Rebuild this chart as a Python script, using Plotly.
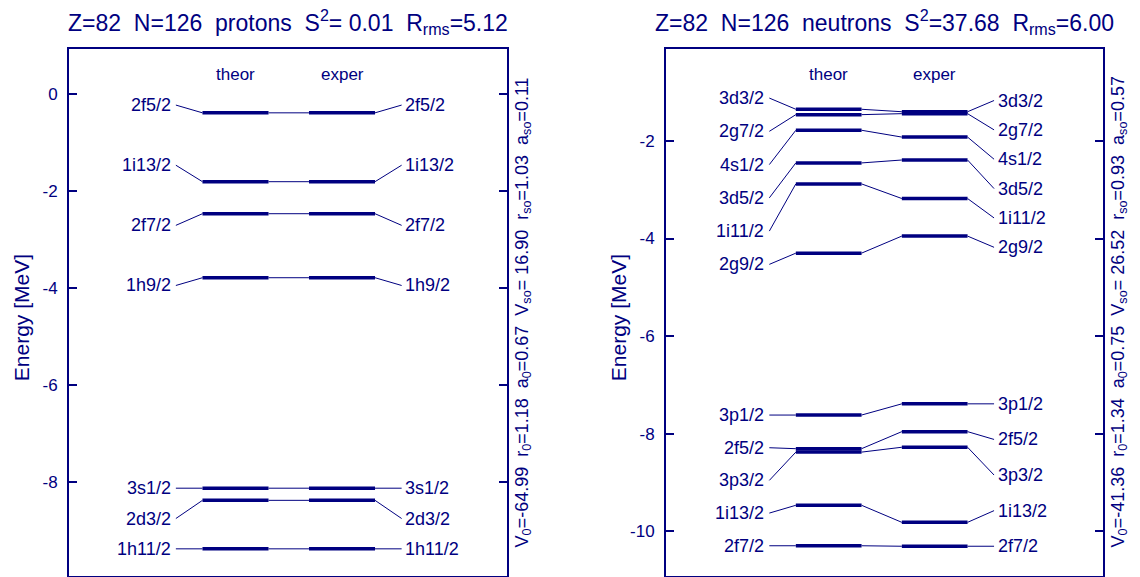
import plotly.graph_objects as go

# ---------------- data ----------------
prot_levels = ["2f5/2", "1i13/2", "2f7/2", "1h9/2", "3s1/2", "2d3/2", "1h11/2"]
prot_theor = [-0.39, -1.81, -2.47, -3.79, -8.13, -8.38, -9.38]
prot_exper = [-0.39, -1.81, -2.47, -3.79, -8.13, -8.38, -9.38]

neut_levels = ["3d3/2", "2g7/2", "4s1/2", "3d5/2", "1i11/2", "2g9/2",
               "3p1/2", "2f5/2", "3p3/2", "1i13/2", "2f7/2"]
neut_theor = [-1.35, -1.46, -1.78, -2.45, -2.88, -4.30,
              -7.62, -8.31, -8.38, -9.47, -10.30]
neut_exper = [-1.40, -1.44, -1.92, -2.39, -3.18, -3.95,
              -7.39, -7.96, -8.28, -9.82, -10.31]

column_names = ["theor", "exper"]
energy_ticks = [-10, -8, -6, -4, -2, 0]
energy_ticktext = [str(v) for v in energy_ticks]

prot_title = ("Z=82\u00a0\u00a0N=126\u00a0\u00a0protons\u00a0\u00a0S<sup>2</sup>= 0.01"
              "\u00a0\u00a0R<sub>rms</sub>=5.12")
neut_title = ("Z=82\u00a0\u00a0N=126\u00a0\u00a0neutrons\u00a0\u00a0S<sup>2</sup>=37.68"
              "\u00a0\u00a0R<sub>rms</sub>=6.00")
prot_params = ("V<sub>0</sub>=-64.99\u00a0\u00a0r<sub>0</sub>=1.18\u00a0\u00a0a<sub>0</sub>=0.67"
               "\u00a0\u00a0V<sub>so</sub>= 16.90\u00a0\u00a0r<sub>so</sub>=1.03\u00a0\u00a0a<sub>so</sub>=0.11")
neut_params = ("V<sub>0</sub>=-41.36\u00a0\u00a0r<sub>0</sub>=1.34\u00a0\u00a0a<sub>0</sub>=0.75"
               "\u00a0\u00a0V<sub>so</sub>= 26.52\u00a0\u00a0r<sub>so</sub>=0.93\u00a0\u00a0a<sub>so</sub>=0.57")

# ---------------- style ----------------
NAVY = "#000080"
FONT = "Liberation Sans, Arial, Helvetica, sans-serif"
W, H = 1140, 577
HALF = 0.31          # half width of a level bar (x units, columns at 1 and 2)
LAB_IN = 0.44        # end of left label connector
LAB_OUT = 2.56       # end of right label connector


def spread_labels(vals, pads, gap=2.0):
    """Spread label positions evenly inside each cluster of close levels."""
    order = sorted(range(len(vals)), key=lambda i: -vals[i])
    clusters = []
    for i in order:
        if clusters and vals[clusters[-1][-1]] - vals[i] < gap:
            clusters[-1].append(i)
        else:
            clusters.append([i])
    pos = list(vals)
    for k, cl in enumerate(clusters):
        pad = pads[min(k, len(pads) - 1)]
        top = vals[cl[0]] + pad
        bot = vals[cl[-1]] - pad
        n = len(cl)
        for j, i in enumerate(cl):
            pos[i] = top + (bot - top) * j / (n - 1) if n > 1 else vals[i]
    return pos


panels = [
    dict(levels=prot_levels, theor=prot_theor, exper=prot_exper, title=prot_title,
         params=prot_params, pads=(0.16, 0.0),
         px=(69, 507), cx=(235.5, 342.0), yr=(-9.93, 0.92), xs="x", ys="y"),
    dict(levels=neut_levels, theor=neut_theor, exper=neut_exper, title=neut_title,
         params=neut_params, pads=(0.23, 0.0),
         px=(666, 1103), cx=(828.7, 934.7), yr=(-10.91, -0.12), xs="x2", ys="y2"),
]

fig = go.Figure()
annotations = []
ydom = [1.5 / H, 1 - 49.3 / H]

for k, p in enumerate(panels):
    theor, exper, levels = p["theor"], p["exper"], p["levels"]
    lab_l = spread_labels(theor, p["pads"])
    lab_r = spread_labels(exper, p["pads"])

    thick_x, thick_y, thin_x, thin_y = [], [], [], []
    for i in range(len(levels)):
        thick_x += [1 - HALF, 1 + HALF, None, 2 - HALF, 2 + HALF, None]
        thick_y += [theor[i], theor[i], None, exper[i], exper[i], None]
        thin_x += [LAB_IN, 1 - HALF, None, 1 + HALF, 2 - HALF, None, 2 + HALF, LAB_OUT, None]
        thin_y += [lab_l[i], theor[i], None, theor[i], exper[i], None, exper[i], lab_r[i], None]

    fig.add_trace(go.Scatter(x=thin_x, y=thin_y, mode="lines", xaxis=p["xs"], yaxis=p["ys"],
                             line=dict(color=NAVY, width=1), hoverinfo="skip", showlegend=False))
    fig.add_trace(go.Scatter(x=thick_x, y=thick_y, mode="lines", xaxis=p["xs"], yaxis=p["ys"],
                             line=dict(color=NAVY, width=3.5), hoverinfo="skip", showlegend=False))

    ax = "" if k == 0 else "2"
    for i, name in enumerate(levels):
        annotations.append(dict(x=LAB_IN - 0.03, y=lab_l[i], xref="x" + ax, yref="y" + ax,
                                text=name, showarrow=False, xanchor="right", yanchor="middle",
                                font=dict(size=18, color=NAVY, family=FONT)))
        annotations.append(dict(x=LAB_OUT + 0.015, y=lab_r[i], xref="x" + ax, yref="y" + ax,
                                text=name, showarrow=False, xanchor="left", yanchor="middle",
                                font=dict(size=18, color=NAVY, family=FONT)))
    for j, cname in enumerate(column_names):
        annotations.append(dict(x=j + 1, y=1 - 74 / H, xref="x" + ax, yref="paper",
                                text=cname, showarrow=False, xanchor="center", yanchor="middle",
                                font=dict(size=17, color=NAVY, family=FONT)))

    x0, x1 = p["px"]
    c1, c2 = p["cx"]
    ppu = c2 - c1
    xr = [1 - (c1 - x0) / ppu, 1 + (x1 - c1) / ppu]
    mid = (x0 + x1) / 2
    annotations.append(dict(x=mid / W, y=1 - 22 / H, xref="paper", yref="paper",
                            text=p["title"], showarrow=False, xanchor="center", yanchor="middle",
                            font=dict(size=23, color=NAVY, family=FONT)))
    annotations.append(dict(x=(x1 + 16) / W, y=(ydom[0] + ydom[1]) / 2, xref="paper", yref="paper",
                            text=p["params"], showarrow=False, textangle=-90,
                            xanchor="center", yanchor="middle",
                            font=dict(size=18, color=NAVY, family=FONT)))
    annotations.append(dict(x=(x0 - 48) / W, y=(ydom[0] + ydom[1]) / 2 - 0.01, xref="paper", yref="paper",
                            text="Energy [MeV]", showarrow=False, textangle=-90,
                            xanchor="center", yanchor="middle",
                            font=dict(size=21, color=NAVY, family=FONT)))

    xaxis = dict(domain=[x0 / W, x1 / W], range=xr, showline=True, mirror=True,
                 linecolor=NAVY, linewidth=2, showticklabels=False, ticks="",
                 showgrid=False, zeroline=False, fixedrange=True)
    yaxis = dict(domain=ydom, range=list(p["yr"]), showline=True, mirror="ticks",
                 linecolor=NAVY, linewidth=2, ticks="inside", ticklen=8, tickwidth=1.5,
                 tickcolor=NAVY, tickvals=energy_ticks, ticktext=energy_ticktext,
                 ticklabelstandoff=6,
                 tickfont=dict(size=17, color=NAVY, family=FONT),
                 showgrid=False, zeroline=False, fixedrange=True)
    if k == 0:
        fig.update_layout(xaxis=xaxis, yaxis=yaxis)
    else:
        xaxis["anchor"] = "y2"
        yaxis["anchor"] = "x2"
        fig.update_layout(xaxis2=xaxis, yaxis2=yaxis)

fig.update_layout(width=W, height=H, margin=dict(l=0, r=0, t=0, b=0),
                  paper_bgcolor="white", plot_bgcolor="white",
                  annotations=annotations, showlegend=False,
                  font=dict(family=FONT, color=NAVY))

fig.write_html("out.html", config={"displayModeBar": False},
               post_script="document.body.style.margin='0';document.body.style.overflow='hidden';")
